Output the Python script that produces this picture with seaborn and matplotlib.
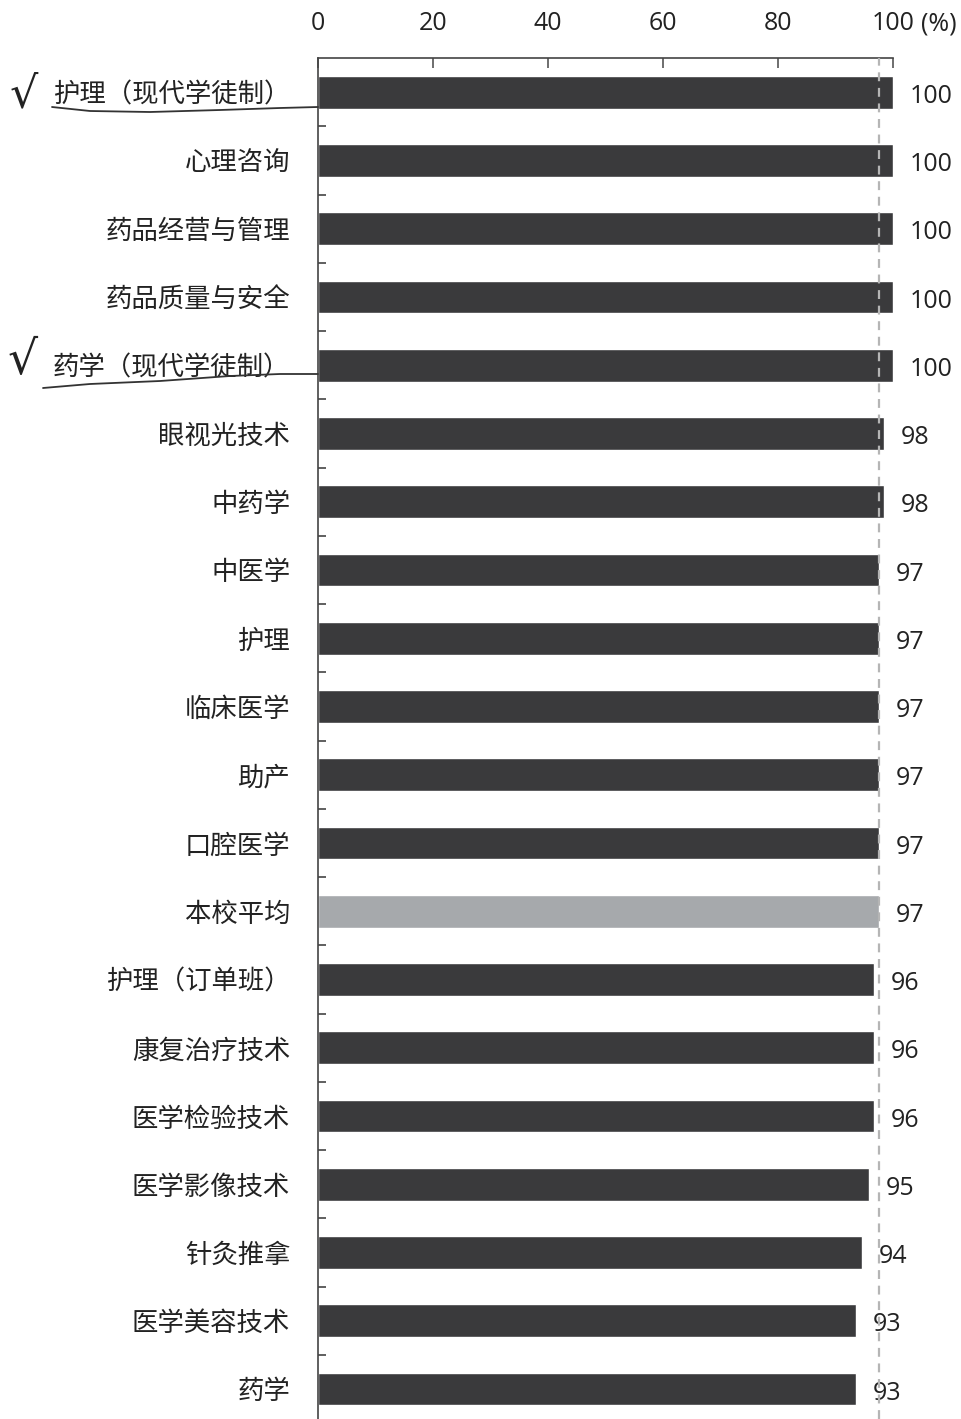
import matplotlib.pyplot as plt
from matplotlib.lines import Line2D
import seaborn as sns
import numpy as np

majors = ['护理（现代学徒制）', '心理咨询', '药品经营与管理', '药品质量与安全',
          '药学（现代学徒制）', '眼视光技术', '中药学', '中医学', '护理', '临床医学',
          '助产', '口腔医学', '本校平均', '护理（订单班）', '康复治疗技术',
          '医学检验技术', '医学影像技术', '针灸推拿', '医学美容技术', '药学']
rates = [100, 100, 100, 100, 100, 98.4, 98.4, 97.6, 97.6, 97.6,
         97.6, 97.6, 97.6, 96.7, 96.7, 96.7, 95.8, 94.6, 93.6, 93.6]
rate_labels = ['100', '100', '100', '100', '100', '98', '98', '97', '97', '97',
               '97', '97', '97', '96', '96', '96', '95', '94', '93', '93']
school_avg = 97.6
x_ticks = [0, 20, 40, 60, 80, 100]

W, H = 961, 1419


def px(x, y):
    return x / W, 1 - y / H


sns.set_style('white')
plt.rcParams['font.family'] = ['Noto Sans CJK SC', 'DejaVu Sans']

fig = plt.figure(figsize=(W / 100, H / 100), dpi=100)
ax = fig.add_axes([318 / W, 0.0, (893 - 318) / W, 1 - 58 / H])

colors = ['#a6a9ac' if m == '本校平均' else '#3a3a3c' for m in majors]
sns.barplot(x=rates, y=majors, hue=majors, palette=colors, legend=False,
            orient='h', width=0.48, saturation=1, ax=ax)

ax.set_xlim(0, 100)
ax.set_ylim(19.44, -0.5)
ax.set_xlabel('')
ax.set_ylabel('')

# average line
ax.axvline(school_avg, color='#b5b5b5', ls=(0, (4, 3)), lw=1.6, zorder=5)

# value labels
for cont, lab in zip(ax.containers, rate_labels):
    texts = ax.bar_label(cont, labels=[lab], padding=12, fontsize=18,
                         family='Open Sans', color='#222222')
    for t in texts:
        t.xyann = (12, -3)

# axes styling
for side in ['right', 'bottom']:
    ax.spines[side].set_visible(False)
for side in ['top', 'left']:
    ax.spines[side].set_color('#444444')
    ax.spines[side].set_linewidth(1.2)

ax.xaxis.tick_top()
ax.set_xticks(x_ticks)
ax.set_xticklabels([str(t) for t in x_ticks])
ax.tick_params(axis='x', direction='in', length=7, width=1.2, color='#555555',
               pad=16, labelsize=18, labelcolor='#222222')
for lbl in ax.get_xticklabels():
    lbl.set_family('Open Sans')
fig.text(921 / W, 1 - 24 / H, '(%)', ha='left', va='center', fontsize=18,
         family='Open Sans', color='#222222')

ax.set_yticks(np.arange(0.5, 19.5, 1), minor=True)
ax.tick_params(axis='y', which='major', length=0, pad=20, labelsize=19,
               labelcolor='#222222')
ax.tick_params(axis='y', which='minor', direction='in', length=6, width=1.2,
               color='#444444', left=True)

# handwritten ticks and underlines
fig.text(*px(10, 95), '√', fontsize=32, family='DejaVu Sans', va='center',
         color='#222222')
fig.text(*px(8, 362), '√', fontsize=34, family='DejaVu Sans', va='center',
         color='#222222')
xs1 = [52, 90, 150, 220, 280, 318]
ys1 = [107, 111, 112, 110, 108, 107]
xs2 = [43, 90, 160, 230, 280, 318]
ys2 = [388, 384, 381, 376, 374, 374]
for xs, ys in [(xs1, ys1), (xs2, ys2)]:
    pts = [px(x, y) for x, y in zip(xs, ys)]
    fig.add_artist(Line2D([p[0] for p in pts], [p[1] for p in pts],
                          transform=fig.transFigure, color='#333333', lw=1.3))

fig.savefig('out.png', dpi=100)
